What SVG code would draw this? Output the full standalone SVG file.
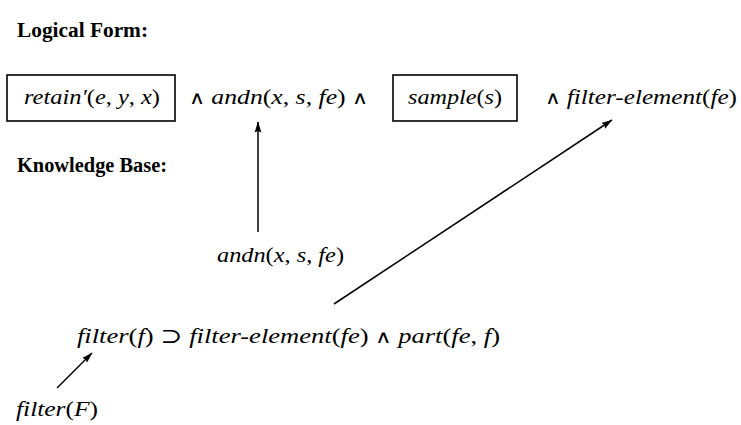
<svg xmlns="http://www.w3.org/2000/svg" width="741" height="425" viewBox="0 0 741 425">
<style>
text{font-family:"Liberation Serif","DejaVu Serif",serif;fill:#000}
.h{font-weight:bold;font-size:20px}
.m{font-style:italic;font-size:21px}
.u{font-style:normal}
.w{font-style:normal;font-family:"DejaVu Sans",sans-serif;font-weight:200;font-size:18px}
.box{fill:none;stroke:#000;stroke-width:1.6}
.c{stroke:#000;stroke-width:1.5;fill:none;marker-end:url(#ah)}
</style>
<defs>
<marker id="ah" viewBox="0 0 11 8" refX="10.5" refY="4" markerWidth="11" markerHeight="8" markerUnits="userSpaceOnUse" orient="auto">
<path d="M0,0.6 L11,4 L0,7.4 L1.5,4 Z" fill="#000"/>
</marker>
</defs>
<rect width="741" height="425" fill="#fff"/>
<text class="h" x="17" y="37" textLength="131" lengthAdjust="spacingAndGlyphs">Logical Form:</text>
<text class="h" x="17" y="172" textLength="150" lengthAdjust="spacingAndGlyphs">Knowledge Base:</text>
<g id="retain">
<rect class="box" x="7" y="75" width="168" height="46"/>
<text class="m" x="24" y="104" textLength="136" lengthAdjust="spacingAndGlyphs">retain′<tspan class="u">(</tspan>e<tspan class="u">, </tspan>y<tspan class="u">, </tspan>x<tspan class="u">)</tspan></text>
</g>
<g id="andn-lf">
<text class="m" x="189" y="104" textLength="179" lengthAdjust="spacingAndGlyphs"><tspan class="w">∧</tspan><tspan class="u"> </tspan>andn<tspan class="u">(</tspan>x<tspan class="u">, </tspan>s<tspan class="u">, </tspan>fe<tspan class="u">) </tspan><tspan class="w">∧</tspan></text>
</g>
<g id="sample">
<rect class="box" x="393" y="75" width="124" height="46"/>
<text class="m" x="408" y="104" textLength="94" lengthAdjust="spacingAndGlyphs">sample<tspan class="u">(</tspan>s<tspan class="u">)</tspan></text>
</g>
<g id="filter-element-lf">
<text class="m" x="545" y="104" textLength="192" lengthAdjust="spacingAndGlyphs"><tspan class="w">∧</tspan><tspan class="u"> </tspan>filter-element<tspan class="u">(</tspan>fe<tspan class="u">)</tspan></text>
</g>
<g id="andn-kb">
<text class="m" x="217" y="262" textLength="127" lengthAdjust="spacingAndGlyphs">andn<tspan class="u">(</tspan>x<tspan class="u">, </tspan>s<tspan class="u">, </tspan>fe<tspan class="u">)</tspan></text>
</g>
<g id="rule">
<text class="m" x="77" y="343" textLength="423" lengthAdjust="spacingAndGlyphs">filter<tspan class="u">(</tspan>f<tspan class="u">)  ⊃  </tspan>filter-element<tspan class="u">(</tspan>fe<tspan class="u">)  </tspan><tspan class="w">∧</tspan><tspan class="u">  </tspan>part<tspan class="u">(</tspan>fe<tspan class="u">, </tspan>f<tspan class="u">)</tspan></text>
</g>
<g id="filterF">
<text class="m" x="16" y="416" textLength="82" lengthAdjust="spacingAndGlyphs">filter<tspan class="u">(</tspan>F<tspan class="u">)</tspan></text>
</g>
<g id="connectors">
<line class="c" x1="258" y1="232" x2="258" y2="122"/>
<line class="c" x1="334" y1="304" x2="612" y2="120"/>
<line class="c" x1="57" y1="388" x2="92" y2="353"/>
</g>
</svg>
